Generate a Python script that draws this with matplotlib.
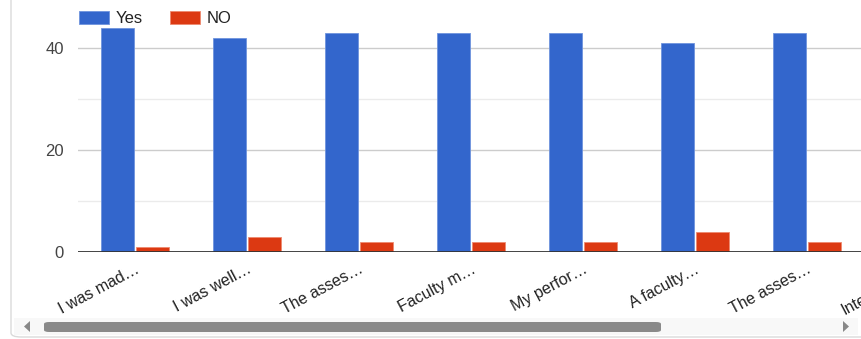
import matplotlib
matplotlib.use("Agg")
import matplotlib.pyplot as plt
import numpy as np
from matplotlib.patches import FancyBboxPatch, Rectangle, Polygon

categories = ["I was mad…", "I was well…", "The asses…", "Faculty m…",
              "My perfor…", "A faculty…", "The asses…", "Interaction…"]
yes_values = [44, 42, 43, 43, 43, 41, 43, np.nan]
no_values = [1, 3, 2, 2, 2, 4, 2, np.nan]
series_names = ["Yes", "NO"]
yticks = [0, 20, 40]

plt.rcParams['font.family'] = ['Liberation Sans', 'DejaVu Sans']

W, H = 862, 339
fig = plt.figure(figsize=(W / 100, H / 100), dpi=100)

def px(x0, y0, x1, y1):
    return [x0 / W, 1 - y1 / H, (x1 - x0) / W, (y1 - y0) / H]

# outer frame
frame = FancyBboxPatch((11 / W, 2 / H), 1.2, 1.2, boxstyle="round,pad=0,rounding_size=0.012",
                       transform=fig.transFigure, facecolor="none", edgecolor="#dadada",
                       linewidth=1.0, zorder=0)
fig.patches.append(frame)

# axes: extends beyond right edge so content is clipped by the figure
left_px, right_px = 78, 990
ax = fig.add_axes(px(left_px, 17.4, right_px, 252))
ax.set_zorder(3)
x = np.arange(len(categories))
unit = 112.0
x_left = -57 / unit
ax.set_xlim(x_left, x_left + (right_px - left_px) / unit)
ax.set_ylim(0, 46)

bw = 0.3
ax.bar(x - bw / 2 - 0.005, yes_values, bw, color="#3366cc", edgecolor="#6f94dd",
       linewidth=0.6, label=series_names[0], zorder=3)
ax.bar(x + bw / 2 + 0.005, no_values, bw, color="#dc3912", edgecolor="#ee8a70",
       linewidth=0.6, label=series_names[1], zorder=3)

ax.set_facecolor("none")
for s in ax.spines.values():
    s.set_visible(False)
ax.set_yticks(yticks)
ax.set_yticks([10, 30], minor=True)
ax.grid(axis="y", which="major", color="#cccccc", linewidth=1.0, zorder=0)
ax.grid(axis="y", which="minor", color="#ebebeb", linewidth=1.0, zorder=0)
ax.axhline(0, color="#333333", linewidth=2.0, zorder=4)
ax.tick_params(axis="y", which="both", length=0, pad=10, labelsize=12, labelcolor="#444444")
ax.set_xticks(x)
ax.set_xticklabels(categories, rotation=28, ha="right", rotation_mode="anchor",
                   fontsize=11.5, color="#222222")
ax.tick_params(axis="x", length=0, pad=7)

leg = fig.legend(*ax.get_legend_handles_labels(), loc="center left",
                 bbox_to_anchor=(79 / W, 1 - 18.5 / H), bbox_transform=fig.transFigure,
                 ncol=2, frameon=False, borderpad=0, borderaxespad=0,
                 fontsize=12, handlelength=1.8, handleheight=0.78, columnspacing=1.6,
                 handletextpad=0.42, labelcolor="#222222")
leg.set_zorder(5)

# scrollbar
track = Rectangle((14 / W, 1 - 335 / H), (858 - 14) / W, 17 / H, transform=fig.transFigure,
                  facecolor="#f8f8f8", edgecolor="none", zorder=1)
fig.patches.append(track)
thumb = FancyBboxPatch((44 / W, 1 - 332 / H), (661 - 44) / W, 10 / H,
                       boxstyle="round,pad=0,rounding_size=0.006", transform=fig.transFigure,
                       facecolor="#8a8a8a", edgecolor="none", zorder=2)
fig.patches.append(thumb)
larrow = Polygon([(30 / W, 1 - 321 / H), (30 / W, 1 - 332 / H), (24 / W, 1 - 326.5 / H)],
                 closed=True, transform=fig.transFigure, facecolor="#888888", edgecolor="none", zorder=2)
rarrow = Polygon([(843 / W, 1 - 321 / H), (843 / W, 1 - 332 / H), (849 / W, 1 - 326.5 / H)],
                 closed=True, transform=fig.transFigure, facecolor="#888888", edgecolor="none", zorder=2)
fig.patches.append(larrow)
fig.patches.append(rarrow)

fig.savefig("out.png", dpi=100)
